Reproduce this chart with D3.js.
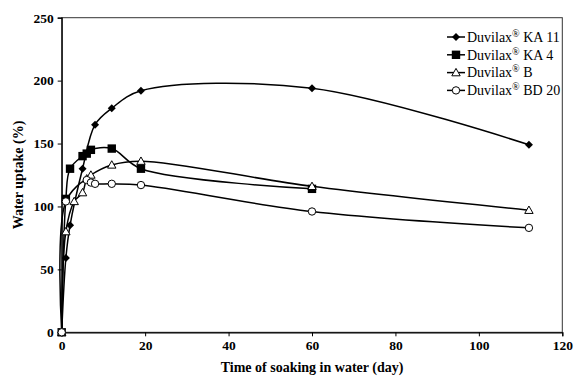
<!DOCTYPE html>
<html>
<head>
<meta charset="utf-8">
<script src="https://cdn.jsdelivr.net/npm/d3@7"></script>
<style>
  body { margin: 0; background: #fff; }
  svg text { font-family: "Liberation Serif", "Times New Roman", serif; }
</style>
</head>
<body>
<div id="chart"></div>
<script>
// values
const seriesNames = ["KA 11", "KA 4", "B", "BD 20"];
const ka11Days = [0, 1, 2, 5, 8, 12, 19, 60, 112];
const ka11Uptake = [0, 59, 85, 130, 165, 178, 192, 194, 149];
const ka4Days = [0, 1, 2, 5, 6, 7, 12, 19, 60];
const ka4Uptake = [0, 106, 130, 140, 142, 145, 146, 130, 114];
const bDays = [0, 1, 3, 5, 6, 7, 12, 19, 60, 112];
const bUptake = [0, 80, 104, 111, 122, 125, 133, 136, 116, 97];
const bd20Days = [0, 1, 6, 7, 8, 12, 19, 60, 112];
const bd20Uptake = [0, 104, 121, 119, 118, 118, 117, 96, 83];
const xTicks = [0, 20, 40, 60, 80, 100, 120];
const yTicks = [0, 50, 100, 150, 200, 250];

const series = [
    { name: seriesNames[0], days: ka11Days, vals: ka11Uptake, mark: "diamond" },
    { name: seriesNames[1], days: ka4Days, vals: ka4Uptake, mark: "square" },
    { name: seriesNames[2], days: bDays, vals: bUptake, mark: "triangle" },
    { name: seriesNames[3], days: bd20Days, vals: bd20Uptake, mark: "circle" }
];

const W = 574, H = 376;
const margin = { top: 17.7, right: 11.7, bottom: 43.7, left: 61.7 };
const width = W - margin.left - margin.right;
const height = H - margin.top - margin.bottom;

const svg = d3.select("#chart").append("svg")
    .attr("width", W)
    .attr("height", H);

const g = svg.append("g")
    .attr("transform", "translate(" + margin.left + "," + margin.top + ")");

const x = d3.scaleLinear().domain([0, 120]).range([0, width]);
const y = d3.scaleLinear().domain([0, 250]).range([height, 0]);

// frame
g.append("rect")
    .attr("width", width)
    .attr("height", height)
    .attr("fill", "none")
    .attr("stroke", "#333")
    .attr("stroke-width", 1);

const xAxis = g.append("g")
    .attr("transform", "translate(0," + height + ")")
    .call(d3.axisBottom(x).tickValues(xTicks).tickSize(4).tickPadding(4));
const yAxis = g.append("g")
    .call(d3.axisLeft(y).tickValues(yTicks).tickSize(4).tickPadding(4));

[xAxis, yAxis].forEach(a => {
    a.select(".domain").attr("stroke", "#000").attr("stroke-width", 1.2);
    a.selectAll(".tick line").attr("stroke", "#000");
    a.selectAll(".tick text")
        .attr("fill", "#000")
        .style("font-size", "13.5px")
        .style("font-weight", "bold");
});

// axis titles
svg.append("text")
    .attr("x", margin.left + width / 2)
    .attr("y", 372)
    .attr("text-anchor", "middle")
    .style("font-size", "14px")
    .style("font-weight", "bold")
    .text("Time of soaking in water (day)");

svg.append("text")
    .attr("transform", "translate(23," + (margin.top + height / 2) + ") rotate(-90)")
    .attr("text-anchor", "middle")
    .style("font-size", "14px")
    .style("font-weight", "bold")
    .text("Water uptake (%)");

// centripetal spline keeps the short early segments from bulging
const line = d3.line()
    .x(d => x(d[0]))
    .y(d => y(d[1]))
    .curve(d3.curveCatmullRom.alpha(0.5));

function drawMark(sel, type) {
    if (type === "diamond") {
        sel.append("path").attr("d", "M0,-4L4,0L0,4L-4,0Z").attr("fill", "#000");
    } else if (type === "square") {
        sel.append("rect").attr("x", -4.2).attr("y", -4.2).attr("width", 8.4).attr("height", 8.4).attr("fill", "#000");
    } else if (type === "triangle") {
        sel.append("path").attr("d", "M0,-4.2L4.2,3.2L-4.2,3.2Z")
            .attr("fill", "#fff").attr("stroke", "#000").attr("stroke-width", 1);
    } else {
        sel.append("circle").attr("r", 3.7)
            .attr("fill", "#fff").attr("stroke", "#000").attr("stroke-width", 1);
    }
}

series.forEach(s => {
    const pts = s.days.map((d, i) => [d, s.vals[i]]);
    g.append("path")
        .datum(pts)
        .attr("fill", "none")
        .attr("stroke", "#000")
        .attr("stroke-width", 1.5)
        .attr("d", line);
});

// markers on top of all lines
series.forEach(s => {
    const pts = s.days.map((d, i) => [d, s.vals[i]]);
    g.selectAll(null)
        .data(pts)
        .enter().append("g")
        .attr("transform", d => `translate(${x(d[0])},${y(d[1])})`)
        .each(function () { drawMark(d3.select(this), s.mark); });
});

// legend
const legend = svg.append("g").attr("transform", "translate(447,37)");
series.forEach((s, i) => {
    const row = legend.append("g").attr("transform", "translate(0," + (i * 17.8) + ")");
    row.append("line")
        .attr("x1", 0).attr("x2", 18)
        .attr("stroke", "#000").attr("stroke-width", 1.5);
    const m = row.append("g").attr("transform", "translate(9,0)");
    drawMark(m, s.mark);
    const t = row.append("text")
        .attr("x", 20)
        .attr("y", 4.8)
        .style("font-size", "14px");
    t.append("tspan").text("Duvilax");
    t.append("tspan").attr("dy", -5).style("font-size", "10px").text("®");
    t.append("tspan").attr("dy", 5).text(" " + s.name);
});
</script>
</body>
</html>
